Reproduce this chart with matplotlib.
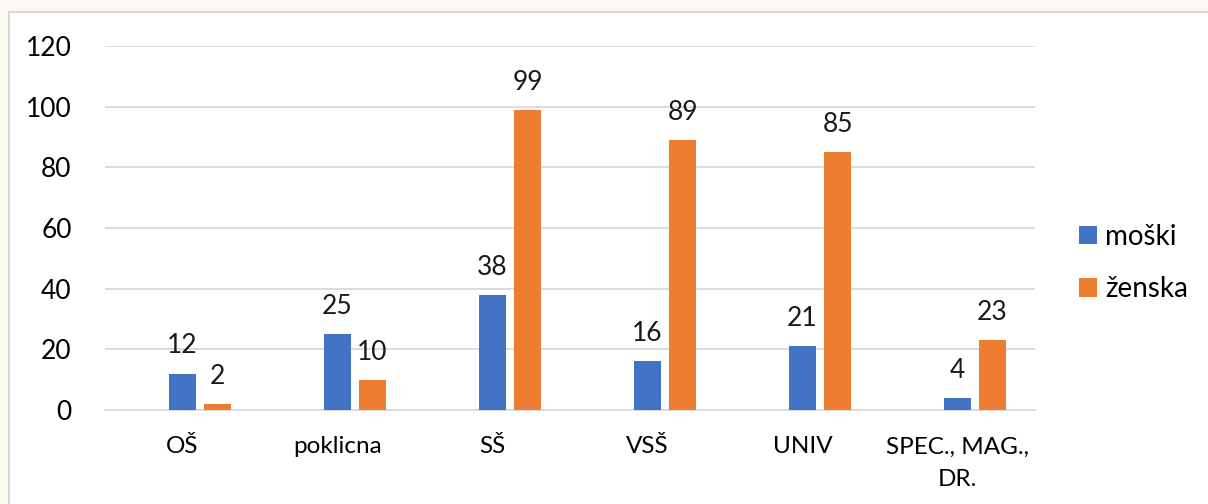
import matplotlib.pyplot as plt
import numpy as np
from matplotlib.patches import Rectangle

categories = ['OŠ', 'poklicna', 'SŠ', 'VSŠ', 'UNIV', 'SPEC., MAG.,\nDR.']
moski = [12, 25, 38, 16, 21, 4]
zenska = [2, 10, 99, 89, 85, 23]

plt.rcParams['font.family'] = ['Lato', 'DejaVu Sans']

fig = plt.figure(figsize=(12.08, 5.04), dpi=100)
fig.patch.set_facecolor('#FBF7F3')
# white chart panel with light border
fig.patches.append(Rectangle((9 / 1208, -0.1), 1.2, 1 - 12 / 504 + 0.1,
                             transform=fig.transFigure, facecolor='white',
                             edgecolor='#D9D9D9', linewidth=1.5, zorder=-10))

ax = fig.add_axes([105 / 1208, 1 - 410 / 504, 930 / 1208, 364 / 504])
ax.set_facecolor('none')

x = np.arange(len(categories))
w = 0.175
b1 = ax.bar(x, moski, width=w, color='#4472C4', label='moški', zorder=3)
b2 = ax.bar(x + 0.226, zenska, width=w, color='#ED7D31', label='ženska', zorder=3)

for bars in (b1, b2):
    for bar in bars:
        h = bar.get_height()
        ax.text(bar.get_x() + bar.get_width() / 2, h + 5.0, f'{h:.0f}',
                ha='center', va='bottom', fontsize=19, color='#1a1a1a')

ax.set_xlim(-0.5, 5.5)
ax.set_ylim(0, 120)
ax.set_yticks(range(0, 121, 20))
ax.set_xticks(x)
ax.set_xticklabels(categories, fontsize=17.5, linespacing=1.7)
ax.tick_params(axis='y', labelsize=19, length=0, pad=24)
ax.tick_params(axis='x', length=0, pad=19)
ax.grid(axis='y', color='#D9D9D9', linewidth=1.3, zorder=0)
for s in ['top', 'right', 'left']:
    ax.spines[s].set_visible(False)
ax.spines['bottom'].set_color('#D9D9D9')
ax.spines['bottom'].set_linewidth(1.3)

ax.legend(loc='center left', bbox_to_anchor=(1.047, 0.404), frameon=False,
          fontsize=20, handlelength=0.65, handleheight=0.65, handletextpad=0.3,
          labelspacing=0.95, borderpad=0, borderaxespad=0)

fig.savefig('out.png', dpi=100, facecolor=fig.get_facecolor())
